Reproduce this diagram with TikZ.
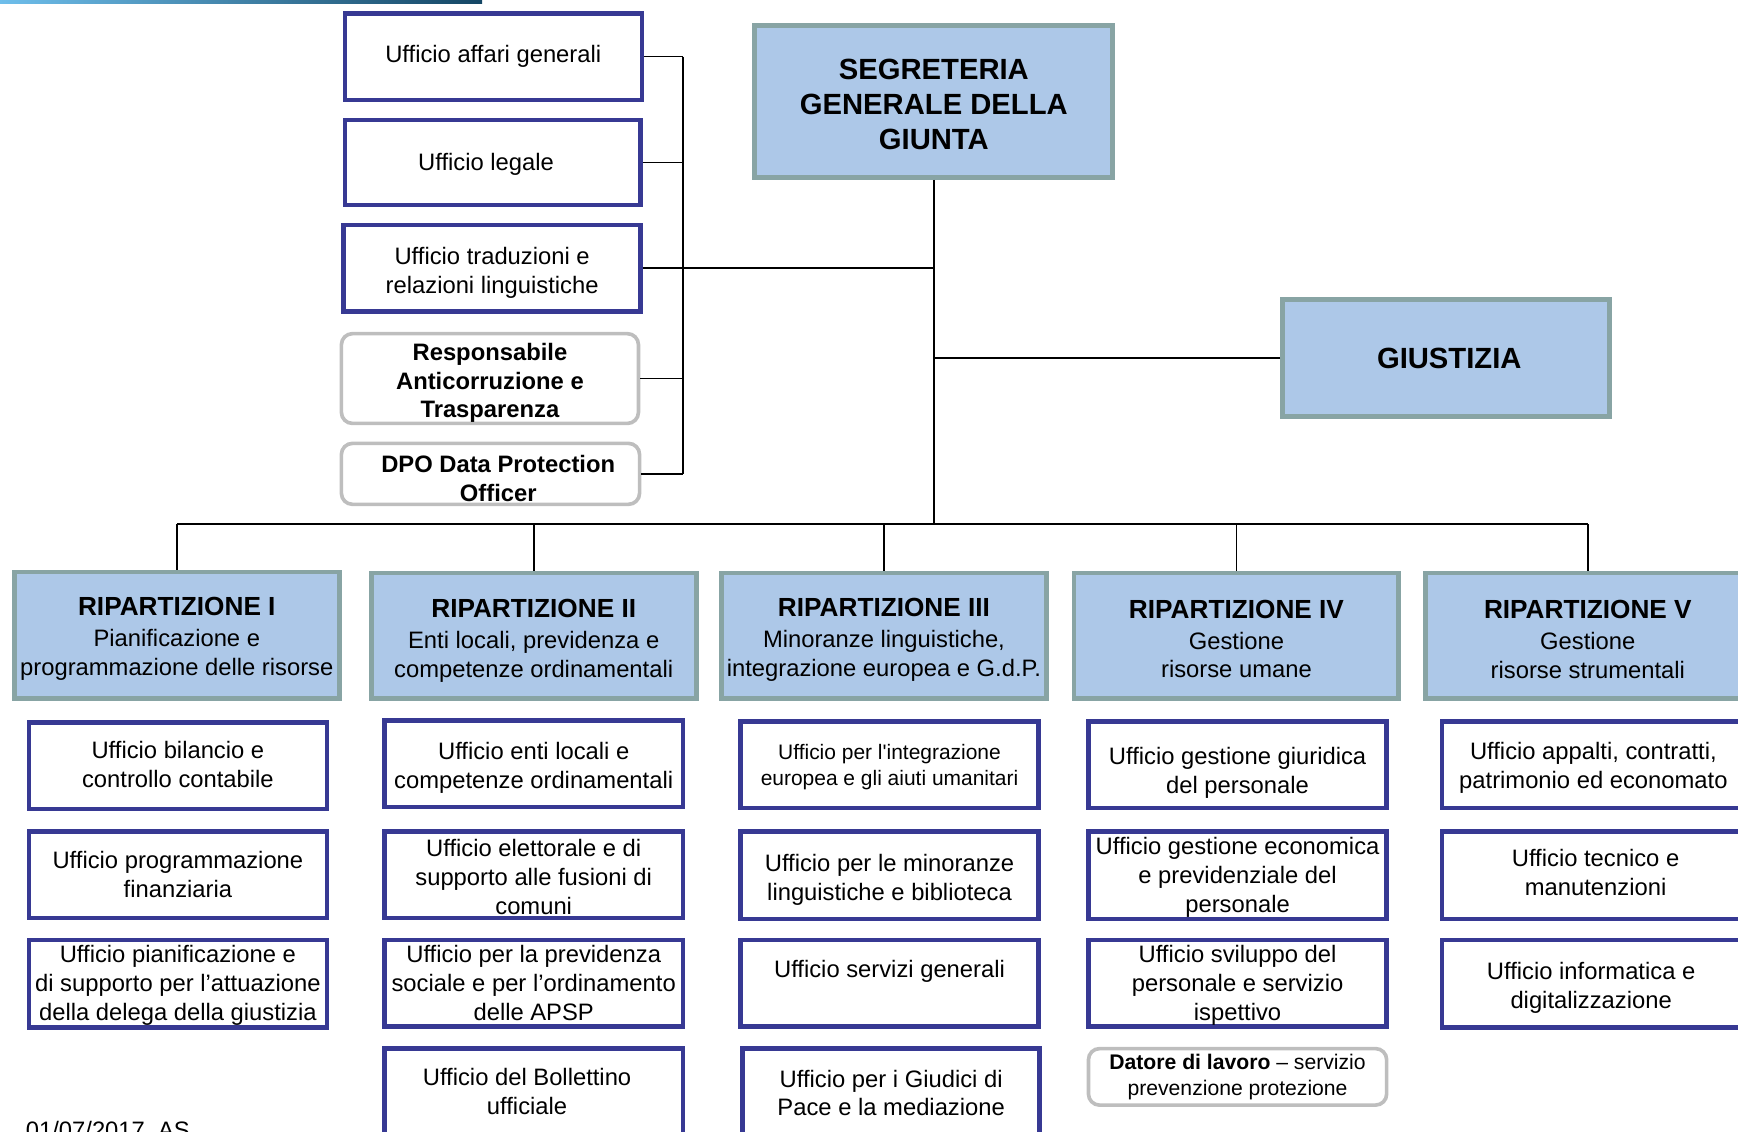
\documentclass[tikz,border=0pt]{standalone}
\usepackage{fontspec}
\setmainfont{Liberation Sans}
\definecolor{ublue}{RGB}{55,57,147}
\definecolor{rfill}{RGB}{173,200,232}
\definecolor{rborder}{RGB}{136,164,164}
\definecolor{gborder}{RGB}{190,190,190}
\definecolor{barL}{RGB}{110,190,235}
\definecolor{barR}{RGB}{20,70,100}
% style, name, x1, y1, x2, y2, text dx, text dy, text
\newcommand{\placebox}[9]{%
  \node[#1, minimum width={(#5-#3-4)*0.55pt}, minimum height={(#6-#4-4)*0.55pt}] (#2) at ({(#3+#5)/2},{(#4+#6)/2}) {};
  \node[#1, draw=none, fill=none, xshift={(#7)*0.55pt}, yshift={-(#8)*0.55pt}] (#2-t) at (#2.center) {#9};}
\newcommand{\rtitle}[1]{{\fontsize{13}{15}\selectfont\bfseries #1}}
\tikzset{
  ubox/.style={draw=ublue, line width=2.2pt, fill=white, align=center, inner sep=1pt, font=\fontsize{11.8}{14.3}\selectfont},
  usmall/.style={ubox, font=\fontsize{10.4}{12.7}\selectfont},
  gbox/.style={draw=gborder, line width=1.8pt, rounded corners=5.5pt, fill=white, align=center, inner sep=1pt, font=\fontsize{11.8}{14.3}\selectfont\bfseries},
  gsmall/.style={gbox, font=\fontsize{10.5}{12.7}\selectfont},
  rbox/.style={draw=rborder, fill=rfill, line width=2.4pt, align=center, inner sep=1pt, font=\fontsize{11.8}{14.3}\selectfont},
  topbox/.style={rbox, font=\fontsize{14.5}{17.3}\selectfont\bfseries},
  conn/.style={line width=0.85pt, black}
}
\begin{document}
\begin{tikzpicture}[x=0.55pt,y=-0.55pt]
\useasboundingbox (0,0) rectangle (1568,1021);
\shade[left color=barL, right color=barR] (0,0) rectangle (435,3.5);

% top-left offices
\placebox{ubox}{a1}{309}{10}{581}{92}{0}{0}{Ufficio affari generali}
\placebox{ubox}{a2}{309}{106}{580}{187}{-6}{2}{Ufficio legale}
\placebox{ubox}{a3}{308}{201}{580}{283}{0}{4}{Ufficio traduzioni e\\relazioni linguistiche}
\placebox{gbox}{a4}{306}{299}{578}{384}{0}{4}{Responsabile\\Anticorruzione e\\Trasparenza}
\placebox{gbox}{a5}{306}{398}{579}{457}{7}{4}{DPO Data Protection\\Officer}

% top boxes
\placebox{topbox}{seg}{679}{21}{1006}{162}{0}{3}{SEGRETERIA\\GENERALE DELLA\\GIUNTA}
\placebox{topbox}{giu}{1155}{268}{1454}{378}{3}{0}{GIUSTIZIA}

% ripartizioni
\placebox{rbox}{r1}{11}{514}{308}{632}{0}{3.5}{\rtitle{RIPARTIZIONE I}\\[1pt]Pianificazione e\\programmazione delle risorse}
\placebox{rbox}{r2}{333}{515}{630}{632}{0}{4.5}{\rtitle{RIPARTIZIONE II}\\[1pt]Enti locali, previdenza e\\competenze ordinamentali}
\placebox{rbox}{r3}{649}{515}{946}{632}{0}{4}{\rtitle{RIPARTIZIONE III}\\[1pt]Minoranze linguistiche,\\integrazione europea e G.d.P.}
\placebox{rbox}{r4}{967}{515}{1264}{632}{0}{3}{\rtitle{RIPARTIZIONE IV}\\[1pt]Gestione\\risorse umane}
\placebox{rbox}{r5}{1284}{515}{1581}{632}{0}{3.5}{\rtitle{RIPARTIZIONE V}\\[1pt]Gestione\\risorse strumentali}

% column I
\placebox{ubox}{b11}{24}{650}{297}{732}{0}{-1.5}{Ufficio bilancio e\\controllo contabile}
\placebox{ubox}{b12}{24}{748}{297}{830}{0}{0}{Ufficio programmazione\\finanziaria}
\placebox{ubox}{b13}{24}{846}{297}{929}{0}{1.5}{Ufficio pianificazione e\\di supporto per l’attuazione\\della delega della giustizia}
% column II
\placebox{ubox}{b21}{345}{648}{618}{730}{0}{4}{Ufficio enti locali e\\competenze ordinamentali}
\placebox{ubox}{b22}{345}{748}{618}{830}{0}{2}{Ufficio elettorale e di\\supporto alle fusioni di\\comuni}
\placebox{ubox}{b23}{345}{846}{618}{928}{0}{0}{Ufficio per la previdenza\\sociale e per l’ordinamento\\delle APSP}
\placebox{ubox}{b24}{345}{944}{618}{1030}{-6}{-2.5}{Ufficio del Bollettino\\ufficiale}
% column III
\placebox{usmall}{b31}{666}{649}{939}{731}{0}{2}{Ufficio per l\textquotesingle integrazione\\europea e gli aiuti umanitari}
\placebox{ubox}{b32}{666}{748}{939}{831}{0}{4}{Ufficio per le minoranze\\linguistiche e biblioteca}
\placebox{ubox}{b33}{666}{846}{939}{928}{0}{-11}{Ufficio servizi generali}
\placebox{ubox}{b34}{668}{944}{940}{1032}{0}{-2}{Ufficio per i Giudici di\\Pace e la mediazione}
% column IV
\placebox{ubox}{b41}{980}{649}{1253}{731}{0}{7.5}{Ufficio gestione giuridica\\del personale}
\placebox{ubox}{b42}{980}{748}{1253}{831}{0}{2}{Ufficio gestione economica\\e previdenziale del\\personale}
\placebox{ubox}{b43}{980}{846}{1253}{928}{0}{2}{Ufficio sviluppo del\\personale e servizio\\ispettivo}
\placebox{gsmall}{b44}{980}{944}{1253}{999}{0}{0}{\textbf{Datore di lavoro} – servizio\\prevenzione protezione}
% column V
\placebox{ubox}{b51}{1299}{649}{1572}{731}{2}{3}{Ufficio appalti, contratti,\\patrimonio ed economato}
\placebox{ubox}{b52}{1299}{748}{1572}{831}{4}{-2}{Ufficio tecnico e\\manutenzioni}
\placebox{ubox}{b53}{1299}{846}{1572}{929}{0}{4}{Ufficio informatica e\\digitalizzazione}

% connectors
\coordinate (lb) at (616,0);
\coordinate (hb) at (0,473);
\draw[conn] (a1.east) -- (a1.east -| lb);
\draw[conn] (a2.east) -- (a2.east -| lb);
\draw[conn] (a4.east) -- (a4.east -| lb);
\draw[conn] (a5.east) -- (a5.east -| lb);
\draw[conn] (a1.east -| lb) -- (a5.east -| lb);
\draw[conn] (a3.east) -- (a3.east -| seg.south);
\draw[conn] (seg.south) -- (seg.south |- hb);
\draw[conn] (giu.west) -- (giu.west -| seg.south);
\draw[conn] (r1.north |- hb) -- (r5.north |- hb);
\foreach \r in {r1,r2,r3,r4,r5} {\draw[conn] (\r.north |- hb) -- (\r.north);}

\node[anchor=base west, inner sep=0pt, font=\fontsize{11.8}{14}\selectfont] (foot) at (23,1027) {01/07/2017\ \ AS};
\end{tikzpicture}
\end{document}
